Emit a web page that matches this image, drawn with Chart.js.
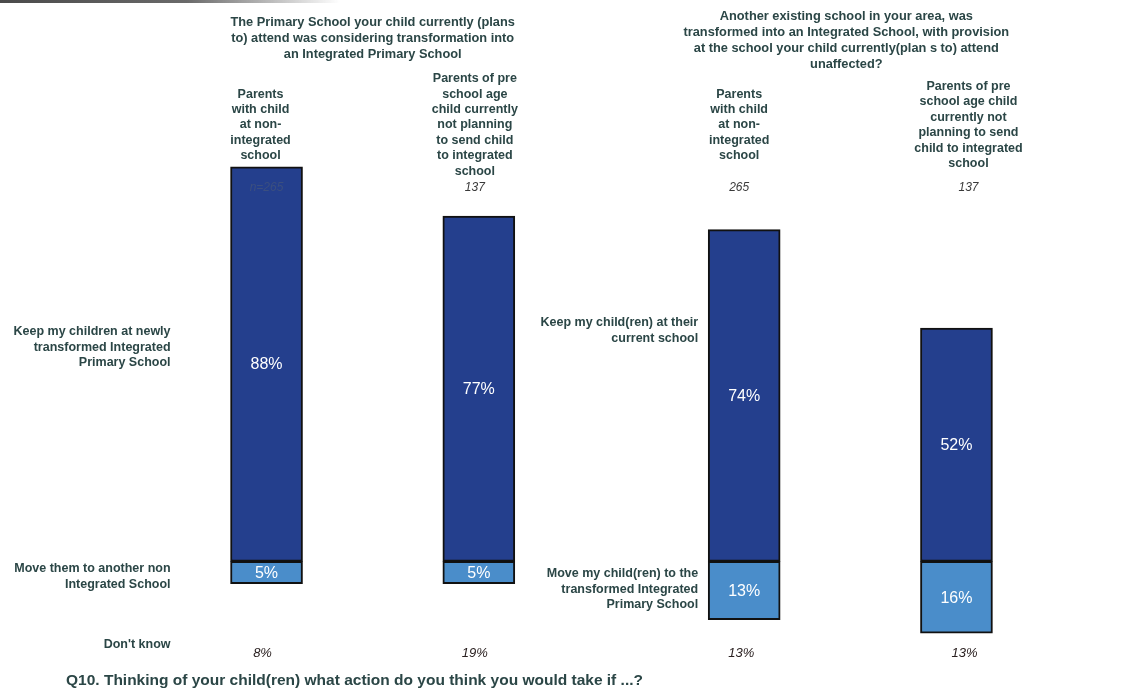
<!DOCTYPE html>
<html><head><meta charset="utf-8">
<script src="https://cdn.jsdelivr.net/npm/chart.js@4/dist/chart.umd.min.js"></script>
<style>
html,body{margin:0;padding:0;background:#fff;}
#wrap{position:relative;width:1123px;height:697px;overflow:hidden;}
.topline{position:absolute;left:0;top:0;width:340px;height:3px;background:linear-gradient(to right,#4a4a4a 0%,#6a6a6a 55%,rgba(210,210,210,0) 100%);}
canvas{display:block;}
</style>
</head><body>
<div id="wrap"><div class="topline"></div><canvas id="c" width="1123" height="697"></canvas></div>
<script>
// ---- data ----
const groupTitles = [
  ['The Primary School your child currently (plans', 'to) attend was considering transformation into', 'an Integrated Primary School'],
  ['Another existing school in your area, was', 'transformed into an Integrated School, with provision', 'at the school your child currently(plan s to) attend', 'unaffected?']
];
const columnHeaders = [
  ['Parents', 'with child', 'at non-', 'integrated', 'school'],
  ['Parents of pre', 'school age', 'child currently', 'not planning', 'to send child', 'to integrated', 'school'],
  ['Parents', 'with child', 'at non-', 'integrated', 'school'],
  ['Parents of pre', 'school age child', 'currently not', 'planning to send', 'child to integrated', 'school']
];
const sampleSizes = ['n=265', '137', '265', '137'];
const keepValues = [88, 77, 74, 52];
const moveValues = [5, 5, 13, 16];
const dontKnowValues = [8, 19, 13, 13];
const keepLabels = [
  ['Keep my children at newly', 'transformed Integrated', 'Primary School'],
  ['Keep my child(ren) at their', 'current school']
];
const moveLabels = [
  ['Move them to another non', 'Integrated School'],
  ['Move my child(ren) to the', 'transformed Integrated', 'Primary School']
];
const dontKnowLabel = "Don't know";
const questionTitle = 'Q10. Thinking of your child(ren) what action do you think you would take if ...?';

// ---- layout (slots on a category axis, spacers between groups) ----
const slotIndex = [0, 4, 9, 13];
const slotCount = 14;
const slotLabels = Array.from({length: slotCount}, (_, i) => {
  const k = slotIndex.indexOf(i); return k >= 0 ? columnHeaders[k].join(' ') : '';
});
function toSlots(arr, neg) {
  const out = Array(slotCount).fill(null);
  slotIndex.forEach((s, k) => { out[s] = neg ? -arr[k] : arr[k]; });
  return out;
}

const TEXT = '#2b4646';
const FONT = "'Liberation Sans', Arial, sans-serif";
const headerOffset = [-6, -4, -5, 12];
const dkOffset = [-4, -4, -3, 8];

const annot = {
  id: 'annot',
  afterDatasetsDraw(chart) {
    const ctx = chart.ctx;
    const xs = chart.scales.x;
    const cx = slotIndex.map(s => xs.getPixelForValue(s));
    ctx.save();
    ctx.textBaseline = 'middle';
    // values inside bars
    ctx.fillStyle = '#ffffff';
    ctx.font = '16px ' + FONT;
    ctx.textAlign = 'center';
    chart.data.datasets.forEach((ds, di) => {
      const meta = chart.getDatasetMeta(di);
      meta.data.forEach((el, i) => {
        const v = ds.data[i];
        if (v === null || v === undefined) return;
        ctx.fillText(Math.abs(v) + '%', el.x, (el.y + el.base) / 2 + 1);
      });
    });
    // group titles
    ctx.fillStyle = TEXT;
    ctx.font = 'bold 12.8px ' + FONT;
    const gCenters = [(cx[0] + cx[1]) / 2, (cx[2] + cx[3]) / 2 - 4];
    const gTop = [22, 16];
    groupTitles.forEach((lines, g) => {
      lines.forEach((t, j) => ctx.fillText(t, gCenters[g], gTop[g] + j * 16));
    });
    // column headers, vertically centred
    ctx.font = 'bold 12.5px ' + FONT;
    columnHeaders.forEach((lines, k) => {
      const lh = 15.4;
      const y0 = 125 - (lines.length - 1) * lh / 2;
      lines.forEach((t, j) => ctx.fillText(t, cx[k] + headerOffset[k], y0 + j * lh));
    });
    // sample sizes
    ctx.font = 'italic 12px ' + FONT;
    sampleSizes.forEach((t, k) => {
      ctx.fillStyle = k === 0 ? '#3b4f80' : '#3a3a3a';
      ctx.fillText(t, cx[k] + headerOffset[k] + (k === 0 ? 6 : 0), 188);
    });
    // row labels
    ctx.fillStyle = TEXT;
    ctx.font = 'bold 12.5px ' + FONT;
    ctx.textAlign = 'right';
    const rx = [cx[0] - 96, cx[2] - 46];
    const keepTop = [332, 323];
    keepLabels.forEach((lines, g) => lines.forEach((t, j) => ctx.fillText(t, rx[g], keepTop[g] + j * 15.5)));
    const moveTop = [569, 574];
    moveLabels.forEach((lines, g) => lines.forEach((t, j) => ctx.fillText(t, rx[g], moveTop[g] + j * 15.5)));
    ctx.fillText(dontKnowLabel, rx[0], 645);
    // don't know values
    ctx.textAlign = 'center';
    ctx.font = 'italic 13px ' + FONT;
    ctx.fillStyle = '#2a2020';
    dontKnowValues.forEach((v, k) => ctx.fillText(v + '%', cx[k] + dkOffset[k], 653));
    // question title
    ctx.textAlign = 'left';
    ctx.fillStyle = TEXT;
    ctx.font = 'bold 15.5px ' + FONT;
    ctx.fillText(questionTitle, 66, 681);
    ctx.restore();
  }
};

new Chart(document.getElementById('c'), {
  type: 'bar',
  data: {
    labels: slotLabels,
    datasets: [
      { label: 'Keep', data: toSlots(keepValues, false), backgroundColor: '#243f8d', borderColor: '#111111', borderWidth: 2, borderSkipped: false, barThickness: 72, clip: false },
      { label: 'Move', data: toSlots(moveValues, true), backgroundColor: '#4a8dca', borderColor: '#111111', borderWidth: 2, borderSkipped: false, barThickness: 72, clip: false }
    ]
  },
  options: {
    responsive: false,
    animation: false,
    layout: { padding: { left: 240, right: 140, top: 113, bottom: 46 } },
    plugins: { legend: { display: false }, tooltip: { enabled: false }, title: { display: false } },
    scales: {
      x: { stacked: true, display: false },
      y: { stacked: true, display: false, min: -20, max: 100 }
    }
  },
  plugins: [annot]
});
</script>
</body></html>
